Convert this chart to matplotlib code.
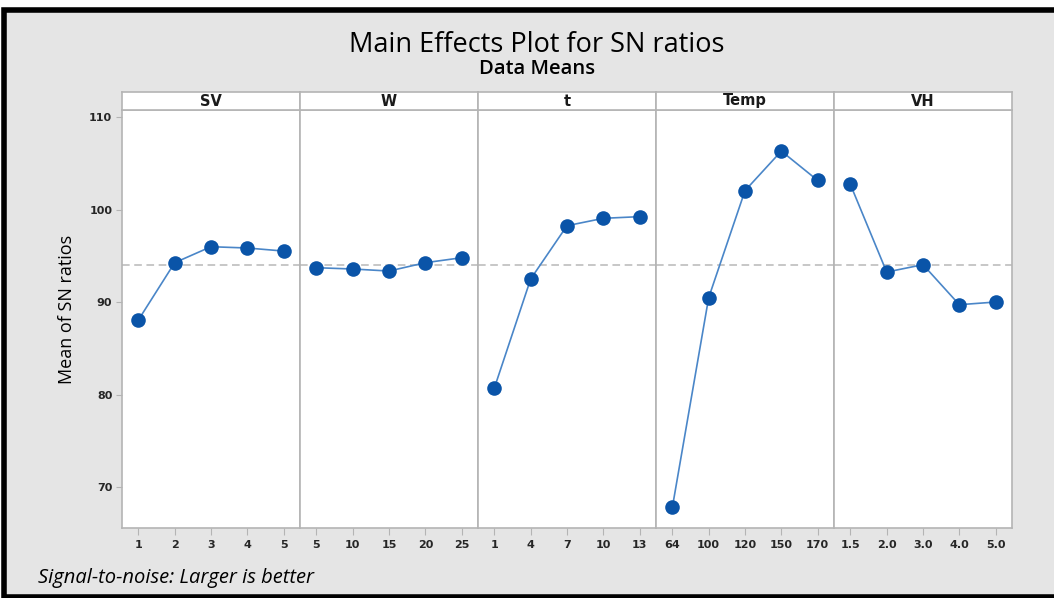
#!/usr/bin/env python3
"""Main effects plot for SN ratios (Minitab style)."""
import matplotlib.pyplot as plt
from matplotlib.patches import Rectangle

W_PX, H_PX = 1054, 598

factors = ["SV", "W", "t", "Temp", "VH"]
levels = [
    ["1", "2", "3", "4", "5"],
    ["5", "10", "15", "20", "25"],
    ["1", "4", "7", "10", "13"],
    ["64", "100", "120", "150", "170"],
    ["1.5", "2.0", "3.0", "4.0", "5.0"],
]
sv_means = [88.05, 94.25, 95.98, 95.84, 95.51]
w_means = [93.71, 93.57, 93.35, 94.25, 94.79]
t_means = [80.7, 92.49, 98.25, 99.05, 99.23]
temp_means = [67.8, 90.47, 102.04, 106.32, 103.15]
vh_means = [102.72, 93.24, 94.04, 89.71, 90.0]
series = [sv_means, w_means, t_means, temp_means, vh_means]
grand_mean = 93.95
y_ticks = [70, 80, 90, 100, 110]

FONT = "Open Sans"
TICKFONT = "DejaVu Sans"
GRID = "#b4b4b4"
MARK = "#0a54a8"
LINE = "#4a86c8"


def fx(px):
    return px / W_PX


def fy(py):
    return 1 - py / H_PX


fig = plt.figure(figsize=(W_PX / 100, H_PX / 100), dpi=100)
fig.patch.set_facecolor("white")

# outer frame: black border with gray fill, behind everything
fig.patches.append(Rectangle((fx(4), fy(597)), fx(1060) - fx(4), fy(10) - fy(597),
                             transform=fig.transFigure, facecolor="#e5e5e5",
                             edgecolor="black", linewidth=4, zorder=-10))

left, right = 122, 1012
top, bottom = 110, 528
strip_top = 92
pw = (right - left) / 5

for i, (name, labs, vals) in enumerate(zip(factors, levels, series)):
    x0 = left + i * pw
    ax = fig.add_axes([fx(x0), fy(bottom), fx(pw), fy(top) - fy(bottom)])
    ax.set_facecolor("white")
    xs = list(range(1, len(vals) + 1))
    ax.axhline(grand_mean, color="#b8b8b8", linestyle=(0, (5, 3)), linewidth=1.1, zorder=1)
    ax.plot(xs, vals, color=LINE, linewidth=1.2, zorder=2)
    ax.plot(xs, vals, "o", color=MARK, markersize=10.5, markeredgewidth=0, zorder=3)
    ax.set_xlim(0.55, 5.45)
    ax.set_ylim(65.57, 110.76)
    ax.set_xticks(xs)
    ax.set_xticklabels(labs, fontfamily=TICKFONT, fontsize=8, fontweight="bold",
                       color="#262626")
    ax.tick_params(axis="x", direction="out", length=5, color=GRID, pad=4)
    for s in ax.spines.values():
        s.set_color(GRID)
        s.set_linewidth(1.2)
    if i == 0:
        ax.set_yticks(y_ticks)
        ax.set_yticklabels([str(v) for v in y_ticks], fontfamily=TICKFONT, fontsize=8,
                           fontweight="bold", color="#262626")
        ax.tick_params(axis="y", direction="out", length=4, color=GRID, pad=3)
    else:
        ax.set_yticks([])

    # strip header
    sax = fig.add_axes([fx(x0), fy(top), fx(pw), fy(strip_top) - fy(top)])
    sax.set_facecolor("white")
    sax.set_xticks([])
    sax.set_yticks([])
    for s in sax.spines.values():
        s.set_color(GRID)
        s.set_linewidth(1.2)
    sax.text(0.5, 0.5, name, ha="center", va="center", transform=sax.transAxes,
             fontfamily=TICKFONT, fontsize=10.5, fontweight="bold", color="#1a1a1a")

fig.text(fx(67), fy(309), "Mean of SN ratios", rotation=90, ha="center", va="center",
         fontfamily=FONT, fontsize=13)
fig.text(fx(537), fy(45), "Main Effects Plot for SN ratios", ha="center", va="center",
         fontfamily=FONT, fontsize=19.5)
fig.text(fx(537), fy(69), "Data Means", ha="center", va="center",
         fontfamily=FONT, fontsize=14.5, fontweight="semibold")
fig.text(fx(38), fy(578), "Signal-to-noise: Larger is better", ha="left", va="center",
         fontfamily=FONT, fontsize=14.5, style="italic")

fig.savefig("out.png", dpi=100)
